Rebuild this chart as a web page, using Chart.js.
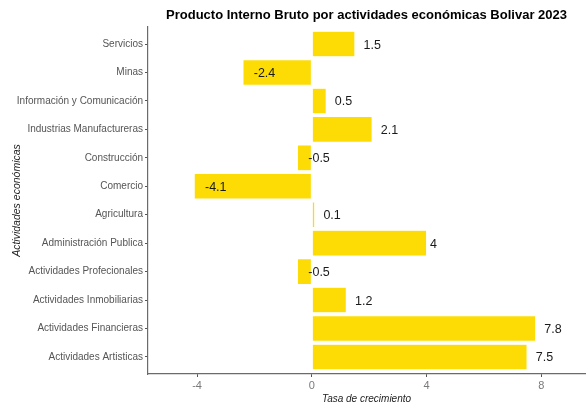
<!DOCTYPE html>
<html>
<head>
<meta charset="utf-8">
<script src="https://cdn.jsdelivr.net/npm/chart.js@4/dist/chart.umd.min.js"></script>
<style>
html,body{margin:0;padding:0;background:#fff;}
#wrap{width:586px;height:409px;}
</style>
</head>
<body>
<div id="wrap"><canvas id="c" width="586" height="409"></canvas></div>
<script>
const categories = [
  "Servicios",
  "Minas",
  "Información y Comunicación",
  "Industrias Manufactureras",
  "Construcción",
  "Comercio",
  "Agricultura",
  "Administración Publica",
  "Actividades Profecionales",
  "Actividades Inmobiliarias",
  "Actividades Financieras",
  "Actividades Artisticas"
];
const growthRates = [1.5, -2.4, 0.5, 2.1, -0.5, -4.1, 0.1, 4, -0.5, 1.2, 7.8, 7.5];
const xTickValues = [-4, 0, 4, 8];
const chartTitle = "Producto Interno Bruto por actividades económicas Bolivar 2023";
const xTitle = "Tasa de crecimiento";
const yTitle = "Actividades económicas";

const FONT = "'Liberation Sans', Arial, sans-serif";

// ggplot-like discrete expansion (0.6 category on each side)
const expandPlugin = {
  id: 'discreteExpand',
  afterLayout(chart) {
    const y = chart.scales.y;
    y._startValue = y.min - 0.6;
    y._valueRange = (y.max - y.min) + 1.2;
  }
};

const titlePlugin = {
  id: 'panelTitle',
  afterDraw(chart) {
    const ctx = chart.ctx, a = chart.chartArea;
    ctx.save();
    ctx.font = "bold 13px " + FONT;
    ctx.fillStyle = "#000";
    ctx.textAlign = "center";
    ctx.textBaseline = "middle";
    ctx.fillText(chartTitle, (a.left + a.right) / 2, 15);
    ctx.restore();
  }
};

const labelPlugin = {
  id: 'valueLabels',
  afterDatasetsDraw(chart) {
    const ctx = chart.ctx;
    const meta = chart.getDatasetMeta(0);
    const xs = chart.scales.x;
    ctx.save();
    ctx.font = "12.5px " + FONT;
    ctx.fillStyle = "#1a1a1a";
    ctx.textAlign = "left";
    ctx.textBaseline = "middle";
    meta.data.forEach((bar, i) => {
      const v = chart.data.datasets[0].data[i];
      const txt = String(v);
      const w = ctx.measureText(txt).width;
      const x = xs.getPixelForValue(v);
      ctx.fillText(txt, x + 0.5 * w, bar.y + 1);
    });
    ctx.restore();
  }
};

new Chart(document.getElementById('c'), {
  type: 'bar',
  data: {
    labels: categories,
    datasets: [{
      data: growthRates,
      backgroundColor: '#FCDC04',
      borderColor: 'rgba(255,255,255,0.6)',
      borderWidth: 0.5,
      borderSkipped: false,
      barPercentage: 0.9,
      categoryPercentage: 1.0
    }]
  },
  options: {
    indexAxis: 'y',
    responsive: false,
    animation: false,
    layout: { padding: { top: 27, right: 1, bottom: 0, left: 0 } },
    plugins: {
      legend: { display: false },
      tooltip: { enabled: false },
      title: { display: false }
    },
    scales: {
      x: {
        type: 'linear',
        min: -5.71,
        max: 9.52,
        afterBuildTicks(scale) {
          scale.ticks = xTickValues.map(v => ({ value: v }));
        },
        afterFit(scale) { scale.height = 35; },
        grid: { drawOnChartArea: false, drawTicks: true, tickLength: 3, tickColor: '#555', tickWidth: 1 },
        border: { display: true, color: '#6b6b6b', width: 1.2 },
        ticks: { color: '#7a7a7a', font: { family: FONT, size: 11 }, padding: 2, maxRotation: 0 },
        title: { display: true, text: xTitle, color: '#222', font: { family: FONT, size: 10, style: 'italic' }, padding: { top: 0, bottom: 4 } }
      },
      y: {
        type: 'category',
        offset: true,
        afterFit(scale) { scale.width = 148; },
        grid: { drawOnChartArea: false, drawTicks: true, tickLength: 3, tickColor: '#555', tickWidth: 1, offset: false },
        border: { display: true, color: '#6b6b6b', width: 1.2 },
        ticks: { color: '#555', font: { family: FONT, size: 10 }, padding: 2, autoSkip: false },
        title: { display: true, text: yTitle, color: '#222', font: { family: FONT, size: 10.5, style: 'italic' }, padding: { top: 11, bottom: 0 } }
      }
    }
  },
  plugins: [expandPlugin, titlePlugin, labelPlugin]
});
</script>
</body>
</html>
